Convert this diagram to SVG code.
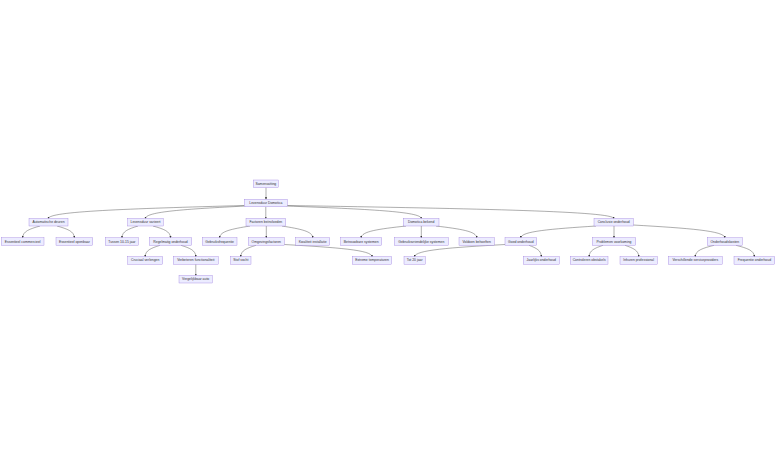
<svg xmlns="http://www.w3.org/2000/svg" width="784" height="464" viewBox="0 0 784 464">
<style>
.node rect{fill:#ECECFF;stroke:#9370DB;stroke-width:0.35}
.node text{font-family:"Liberation Sans",Arial,sans-serif;font-size:3.4px;fill:#333;text-anchor:middle;dominant-baseline:central}
.edges path{fill:none;stroke:#333;stroke-width:0.4;marker-end:url(#arr)}
</style>
<defs>
<marker id="arr" viewBox="0 0 10 10" refX="9" refY="5" markerUnits="userSpaceOnUse" markerWidth="2.2" markerHeight="2.2" orient="auto">
<path d="M0,0 L10,5 L0,10 z" fill="#333"/>
</marker>
</defs>
<rect width="784" height="464" fill="#fff"/>
<g class="edges">
<path d="M266,187.5 L266,199.3"/>
<path d="M244.3,205.5 C126.8,208.75 48.5,211.35 48.5,218.5"/>
<path d="M246,206 C185.7,209.1 145.5,211.6 145.5,218.5"/>
<path d="M265.8,206.7 L265.8,218.5"/>
<path d="M286,206 C367.1,209.1 421.2,211.6 421.2,218.5"/>
<path d="M287.3,205.5 C483.1,208.75 613.7,211.35 613.7,218.5"/>
<path d="M40,226 C29.6,228.95 22.7,231.3 22.7,237.8"/>
<path d="M57,226 C67.4,228.95 74.3,231.3 74.3,237.8"/>
<path d="M138,226 C128.4,228.95 122,231.3 122,237.8"/>
<path d="M153,226 C163.5,228.95 170.5,231.3 170.5,237.8"/>
<path d="M250,226 C231.8,228.95 219.7,231.3 219.7,237.8"/>
<path d="M266.3,226 L266.3,237.8"/>
<path d="M282,226 C300.4,228.95 312.7,231.3 312.7,237.8"/>
<path d="M406,226 C379.1,228.95 361.2,231.3 361.2,237.8"/>
<path d="M421.3,226 L421.3,237.8"/>
<path d="M436,226 C460.4,228.95 476.7,231.3 476.7,237.8"/>
<path d="M596,226 C550.9,228.95 520.9,231.3 520.9,237.8"/>
<path d="M614,226 L614,237.8"/>
<path d="M633.3,225 C688.2,228.2 724.8,230.8 724.8,237.8"/>
<path d="M160,245.3 C151.1,248.15 145.2,250.43 145.2,256.7"/>
<path d="M181,245.3 C189.9,248.15 195.8,250.43 195.8,256.7"/>
<path d="M256,245.3 C246.9,248.15 240.8,250.43 240.8,256.7"/>
<path d="M284.3,244.5 C336.9,247.55 372,250 372,256.7"/>
<path d="M505,244.5 C450.8,247.55 414.7,250 414.7,256.7"/>
<path d="M529,245.3 C536.4,248.15 541.3,250.43 541.3,256.7"/>
<path d="M603,245.3 C594.7,248.15 589.2,250.43 589.2,256.7"/>
<path d="M625,245.3 C633.2,248.15 638.7,250.43 638.7,256.7"/>
<path d="M714,245.3 C702.8,248.15 695.3,250.43 695.3,256.7"/>
<path d="M736,245.3 C747,248.15 754.3,250.43 754.3,256.7"/>
<path d="M195.8,264.3 L195.8,275.5"/>
</g>
<g id="n0" class="node"><rect x="253.3" y="180" width="25" height="7.5"/><text x="265.8" y="183.75">Samenvatting</text></g>
<g id="n1" class="node"><rect x="244.3" y="199.3" width="43" height="7.5"/><text x="265.8" y="203.05">Levensduur Domotica</text></g>
<g id="n2" class="node"><rect x="29" y="218.5" width="39" height="7.5"/><text x="48.5" y="222.25">Automatische deuren</text></g>
<g id="n3" class="node"><rect x="127.7" y="218.5" width="35.6" height="7.5"/><text x="145.5" y="222.25">Levensduur varieert</text></g>
<g id="n4" class="node"><rect x="246" y="218.5" width="39.7" height="7.5"/><text x="265.85" y="222.25">Factoren beïnvloeden</text></g>
<g id="n5" class="node"><rect x="403.3" y="218.5" width="35.7" height="7.5"/><text x="421.15" y="222.25">Domotica bekend</text></g>
<g id="n6" class="node"><rect x="594" y="218.5" width="39.3" height="7.5"/><text x="613.65" y="222.25">Conclusie onderhoud</text></g>
<g id="n7" class="node"><rect x="1.3" y="237.8" width="42.7" height="7.5"/><text x="22.65" y="241.55">Essentieel commercieel</text></g>
<g id="n8" class="node"><rect x="56" y="237.8" width="36.7" height="7.5"/><text x="74.35" y="241.55">Essentieel openbaar</text></g>
<g id="n9" class="node"><rect x="105.3" y="237.8" width="33" height="7.5"/><text x="121.8" y="241.55">Tussen 10-15 jaar</text></g>
<g id="n10" class="node"><rect x="149.3" y="237.8" width="42.4" height="7.5"/><text x="170.5" y="241.55">Regelmatig onderhoud</text></g>
<g id="n11" class="node"><rect x="202.3" y="237.8" width="34.7" height="7.5"/><text x="219.65" y="241.55">Gebruiksfrequentie</text></g>
<g id="n12" class="node"><rect x="248.3" y="237.8" width="36" height="7.5"/><text x="266.3" y="241.55">Omgevingsfactoren</text></g>
<g id="n13" class="node"><rect x="295.7" y="237.8" width="34" height="7.5"/><text x="312.7" y="241.55">Kwaliteit installatie</text></g>
<g id="n14" class="node"><rect x="340.7" y="237.8" width="41" height="7.5"/><text x="361.2" y="241.55">Betrouwbare systemen</text></g>
<g id="n15" class="node"><rect x="394.3" y="237.8" width="54" height="7.5"/><text x="421.3" y="241.55">Gebruiksvriendelijke systemen</text></g>
<g id="n16" class="node"><rect x="459" y="237.8" width="35.3" height="7.5"/><text x="476.65" y="241.55">Voldoen behoeften</text></g>
<g id="n17" class="node"><rect x="505" y="237.8" width="31.7" height="7.5"/><text x="520.85" y="241.55">Goed onderhoud</text></g>
<g id="n18" class="node"><rect x="592.3" y="237.8" width="43.4" height="7.5"/><text x="614" y="241.55">Problemen voorkoming</text></g>
<g id="n19" class="node"><rect x="707.3" y="237.8" width="35" height="7.5"/><text x="724.8" y="241.55">Onderhoudskosten</text></g>
<g id="n20" class="node"><rect x="127.7" y="256.7" width="35" height="7.5"/><text x="145.2" y="260.45">Cruciaal verlengen</text></g>
<g id="n21" class="node"><rect x="173.3" y="256.7" width="45" height="7.5"/><text x="195.8" y="260.45">Verbeteren functionaliteit</text></g>
<g id="n22" class="node"><rect x="230.7" y="256.7" width="20.3" height="7.5"/><text x="240.85" y="260.45">Stof vocht</text></g>
<g id="n23" class="node"><rect x="352.3" y="256.7" width="39.4" height="7.5"/><text x="372" y="260.45">Extreme temperaturen</text></g>
<g id="n24" class="node"><rect x="404" y="256.7" width="21.3" height="7.5"/><text x="414.65" y="260.45">Tot 20 jaar</text></g>
<g id="n25" class="node"><rect x="523.3" y="256.7" width="36" height="7.5"/><text x="541.3" y="260.45">Jaarlijks onderhoud</text></g>
<g id="n26" class="node"><rect x="570.3" y="256.7" width="37.7" height="7.5"/><text x="589.15" y="260.45">Controleren obstakels</text></g>
<g id="n27" class="node"><rect x="620" y="256.7" width="37.3" height="7.5"/><text x="638.65" y="260.45">Inhuren professional</text></g>
<g id="n28" class="node"><rect x="668.3" y="256.7" width="54" height="7.5"/><text x="695.3" y="260.45">Verschillende serviceproviders</text></g>
<g id="n29" class="node"><rect x="734" y="256.7" width="40.7" height="7.5"/><text x="754.35" y="260.45">Frequentie onderhoud</text></g>
<g id="n30" class="node"><rect x="179" y="275.5" width="33.3" height="7.5"/><text x="195.65" y="279.25">Vergelijkbaar auto</text></g>
</svg>
